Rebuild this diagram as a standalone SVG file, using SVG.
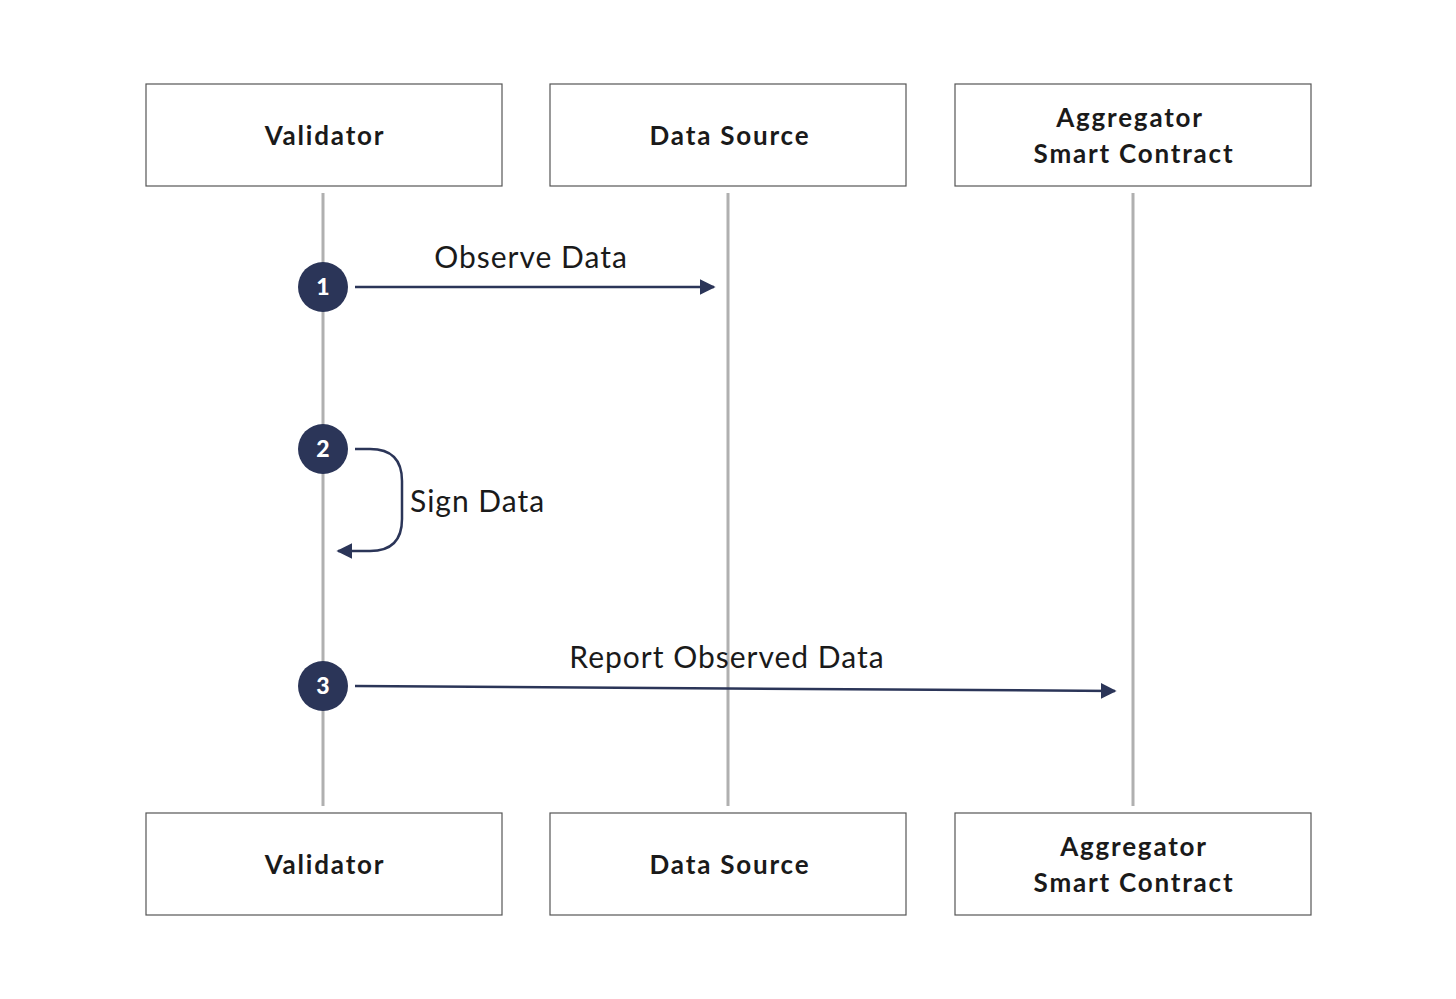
<svg xmlns="http://www.w3.org/2000/svg" width="1456" height="999" viewBox="0 0 1456 999">
<style>
.box{fill:#fff;stroke:#555;stroke-width:1.2}
.title{font-family:Lato,"Noto Sans",sans-serif;font-weight:bold;font-size:26px;fill:#1a1a1a;text-anchor:middle;letter-spacing:1.8px}
.life{stroke:#b0b0b0;stroke-width:3;fill:none}
.msg{stroke:#2b3558;stroke-width:2.5;fill:none}
.lbl{font-family:Lato,"Noto Sans",sans-serif;font-size:30px;fill:#1a1a1a;letter-spacing:1px}
.num{fill:#2b3558}
.numt{font-family:Lato,"Noto Sans",sans-serif;font-weight:900;font-size:23px;fill:#fff;text-anchor:middle}
</style>
<defs>
<marker id="ah" viewBox="0 0 10 10" refX="9" refY="5" markerWidth="16" markerHeight="16" markerUnits="userSpaceOnUse" orient="auto">
<path d="M0,0 L10,5 L0,10 z" fill="#2b3558"/>
</marker>
</defs>
<rect width="1456" height="999" fill="#fff"/>
<g id="lifelines">
<line class="life" x1="323" y1="193" x2="323" y2="806"/>
<line class="life" x1="728" y1="193" x2="728" y2="806"/>
<line class="life" x1="1133" y1="193" x2="1133" y2="806"/>
</g>
<g id="validator-top"><rect class="box" x="146" y="84" width="356" height="102"/><text class="title" x="325" y="145">Validator</text></g>
<g id="datasource-top"><rect class="box" x="550" y="84" width="356" height="102"/><text class="title" x="730" y="145">Data Source</text></g>
<g id="aggregator-top"><rect class="box" x="955" y="84" width="356" height="102"/><text class="title" x="1130" y="127">Aggregator</text><text class="title" x="1134" y="163">Smart Contract</text></g>
<g id="validator-bottom"><rect class="box" x="146" y="813" width="356" height="102"/><text class="title" x="325" y="874">Validator</text></g>
<g id="datasource-bottom"><rect class="box" x="550" y="813" width="356" height="102"/><text class="title" x="730" y="874">Data Source</text></g>
<g id="aggregator-bottom"><rect class="box" x="955" y="813" width="356" height="102"/><text class="title" x="1134" y="856">Aggregator</text><text class="title" x="1134" y="892">Smart Contract</text></g>
<g id="connectors">
<line class="msg" x1="355" y1="287" x2="714" y2="287" marker-end="url(#ah)"/>
<path class="msg" d="M355,449 L370,449 Q402,449 402,481 L402,519 Q402,551 370,551 L338,551" marker-end="url(#ah)"/>
<line class="msg" x1="355" y1="686" x2="1115" y2="691" marker-end="url(#ah)"/>
</g>
<g id="labels">
<text class="lbl" x="531" y="268" text-anchor="middle">Observe Data</text>
<text class="lbl" x="410" y="512">Sign Data</text>
<text class="lbl" x="727" y="668" text-anchor="middle">Report Observed Data</text>
</g>
<g id="step1"><circle class="num" cx="323" cy="287" r="25"/><text class="numt" x="323" y="295">1</text></g>
<g id="step2"><circle class="num" cx="323" cy="449" r="25"/><text class="numt" x="323" y="457">2</text></g>
<g id="step3"><circle class="num" cx="323" cy="686" r="25"/><text class="numt" x="323" y="694">3</text></g>
</svg>
